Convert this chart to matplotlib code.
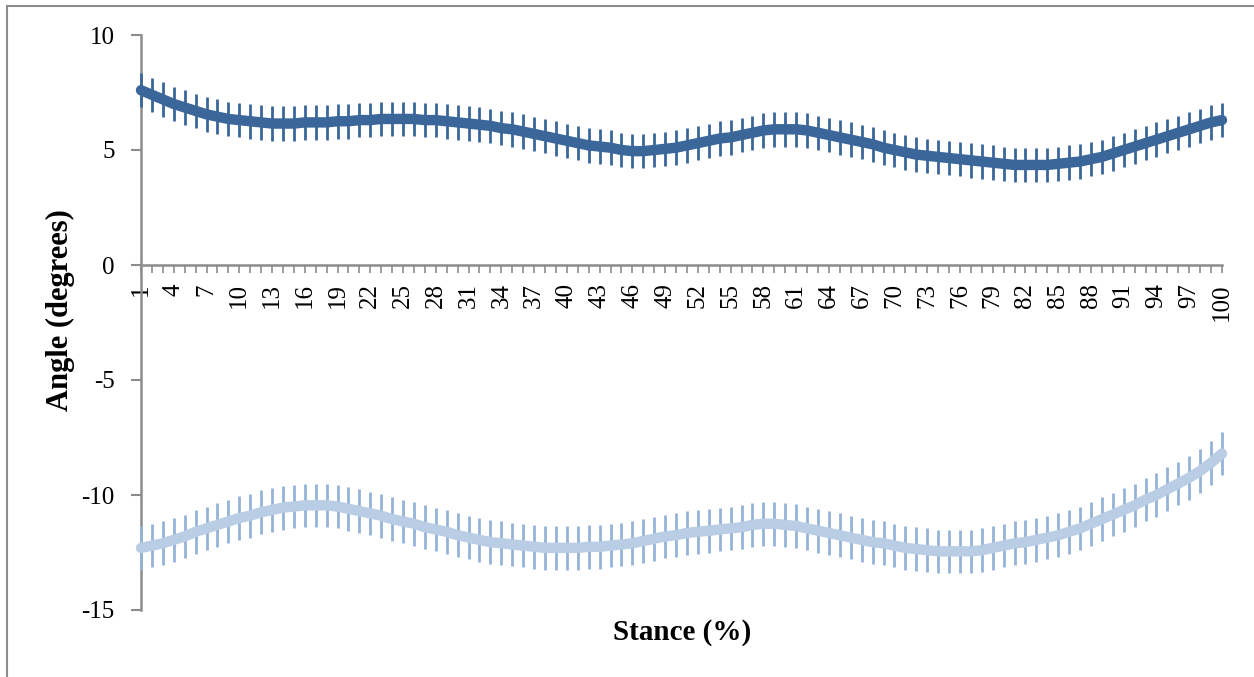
import numpy as np
import matplotlib.pyplot as plt
from matplotlib.patches import Rectangle
from matplotlib.ticker import FixedLocator

# stance percentage (categories 1..100)
stance = list(range(1, 101))

# upper series (mean angle, degrees)
upper_mean = [7.6, 7.4, 7.2, 7.0, 6.85, 6.7, 6.55, 6.45, 6.35, 6.3,
              6.25, 6.2, 6.15, 6.15, 6.15, 6.2, 6.2, 6.2, 6.25, 6.25,
              6.3, 6.3, 6.35, 6.35, 6.35, 6.35, 6.3, 6.3, 6.25, 6.2,
              6.15, 6.1, 6.05, 5.95, 5.9, 5.8, 5.7, 5.6, 5.5, 5.4,
              5.3, 5.2, 5.15, 5.1, 5.0, 4.95, 4.95, 5.0, 5.05, 5.1,
              5.2, 5.3, 5.4, 5.5, 5.55, 5.65, 5.75, 5.85, 5.9, 5.9,
              5.9, 5.85, 5.75, 5.65, 5.55, 5.45, 5.35, 5.25, 5.1, 5.0,
              4.9, 4.8, 4.75, 4.7, 4.65, 4.6, 4.55, 4.5, 4.45, 4.4,
              4.35, 4.35, 4.35, 4.35, 4.4, 4.45, 4.5, 4.6, 4.7, 4.85,
              5.0, 5.15, 5.3, 5.45, 5.6, 5.75, 5.9, 6.05, 6.2, 6.3]
upper_sd = [0.75] * 100

# lower series
lower_mean = [-12.3, -12.2, -12.1, -11.95, -11.8, -11.6, -11.45, -11.3, -11.15, -11.0,
              -10.9, -10.75, -10.65, -10.55, -10.5, -10.45, -10.45, -10.45, -10.5, -10.6,
              -10.7, -10.8, -10.9, -11.05, -11.15, -11.25, -11.4, -11.5, -11.6, -11.75,
              -11.85, -11.95, -12.05, -12.1, -12.15, -12.2, -12.25, -12.3, -12.3, -12.3,
              -12.3, -12.25, -12.25, -12.2, -12.15, -12.1, -12.0, -11.9, -11.8, -11.75,
              -11.65, -11.6, -11.55, -11.5, -11.45, -11.4, -11.3, -11.25, -11.25, -11.3,
              -11.35, -11.45, -11.55, -11.65, -11.75, -11.85, -11.95, -12.05, -12.1, -12.2,
              -12.3, -12.35, -12.4, -12.45, -12.45, -12.45, -12.45, -12.4, -12.3, -12.2,
              -12.1, -12.05, -11.95, -11.85, -11.75, -11.6, -11.45, -11.25, -11.05, -10.85,
              -10.65, -10.45, -10.2, -10.0, -9.75, -9.5, -9.25, -8.95, -8.6, -8.2]
lower_sd = [0.95] * 100

xtick_labels = [str(v) for v in range(1, 101, 3)]

plt.rcParams['font.family'] = ['Liberation Serif', 'DejaVu Serif']

fig = plt.figure(figsize=(12.54, 6.77), dpi=100)
ax = fig.add_axes([141/1254, 1 - 610/677, (1222-141)/1254, (610-35)/677])

# outer chart border (partly cropped in the original)
fig.patches.append(Rectangle((7/1254, -0.1), 1.2, 1 - 6/677 + 0.1,
                             transform=fig.transFigure, fill=False,
                             edgecolor='#8c8c8c', lw=1.5))

eb1 = ax.errorbar(stance, lower_mean, yerr=lower_sd, color='#b9cde5', ecolor='#95b3d7',
                  lw=7.5, elinewidth=2.0, capsize=0, solid_capstyle='round', zorder=3)
eb2 = ax.errorbar(stance, upper_mean, yerr=upper_sd, color='#3a6699', ecolor='#3a6699',
                  lw=7.5, elinewidth=2.0, capsize=0, solid_capstyle='round', zorder=3)
for eb in (eb1, eb2):
    eb.lines[0].set_clip_on(False)
    for c in eb.lines[2]:
        c.set_clip_on(False)

ax.set_xlim(1, 100)
ax.set_ylim(-15, 10)
ax.set_yticks([-15, -10, -5, 0, 5, 10])
ax.set_yticklabels(['-15', '-10', '-5', '0', '5', '10'])
ax.set_xticks(list(range(1, 101, 3)))
ax.set_xticklabels(xtick_labels)
ax.xaxis.set_minor_locator(FixedLocator(stance))

for s in ['top', 'right']:
    ax.spines[s].set_visible(False)
ax.spines['bottom'].set_position(('data', 0))
for s in ['bottom', 'left']:
    ax.spines[s].set_color('#8c8c8c')
    ax.spines[s].set_linewidth(1.8)

ax.tick_params(axis='y', length=7, width=1.5, color='#8c8c8c', pad=12, labelsize=18)
ax.tick_params(axis='x', which='major', length=6, width=1.2, color='#8c8c8c',
               direction='out', pad=7, labelsize=18, labelrotation=90)
ax.tick_params(axis='x', which='minor', length=6, width=1.2, color='#8c8c8c', direction='out')

fig.text(60/1254, 1 - 310/677, 'Angle (degrees)', rotation=90, fontsize=22,
         fontweight='bold', ha='center', va='center')
fig.text(682/1254, 1 - 633/677, 'Stance (%)', fontsize=21, fontweight='bold',
         ha='center', va='center')

fig.savefig('out.png', dpi=100)
